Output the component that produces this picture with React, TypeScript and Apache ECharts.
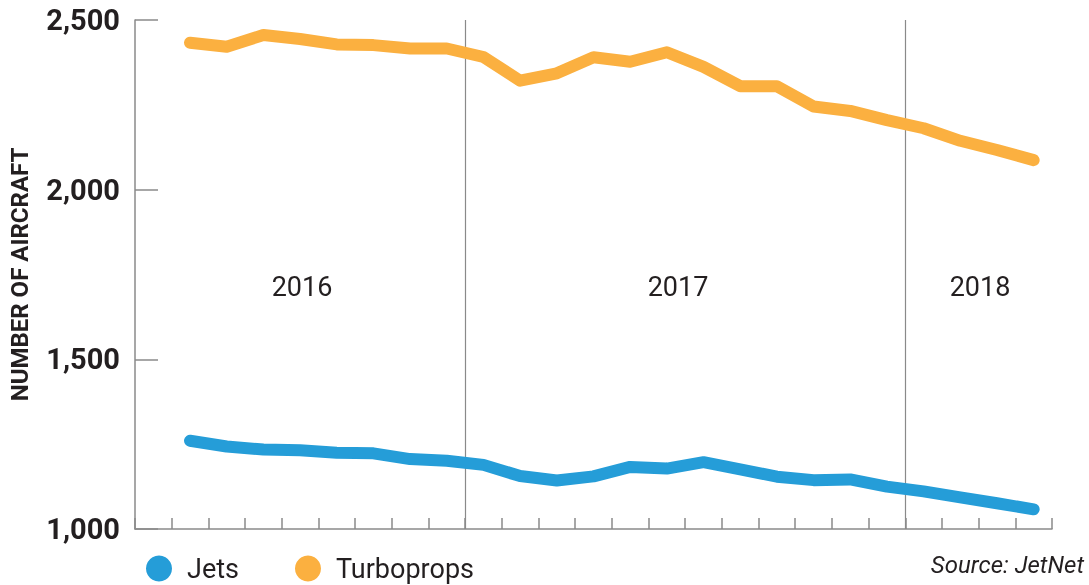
import React, { useEffect, useRef } from "react";
import * as echarts from "echarts";

const months = [
  "May 2016", "Jun 2016", "Jul 2016", "Aug 2016", "Sep 2016", "Oct 2016", "Nov 2016", "Dec 2016",
  "Jan 2017", "Feb 2017", "Mar 2017", "Apr 2017", "May 2017", "Jun 2017", "Jul 2017", "Aug 2017",
  "Sep 2017", "Oct 2017", "Nov 2017", "Dec 2017",
  "Jan 2018", "Feb 2018", "Mar 2018", "Apr 2018",
];
const jets = [1260, 1243, 1234, 1232, 1225, 1223, 1206, 1201, 1189, 1156, 1143, 1155, 1183, 1178, 1197, 1176, 1154, 1144, 1146, 1125, 1111, 1093, 1076, 1058];
const turboprops = [2433, 2421, 2456, 2444, 2428, 2426, 2416, 2416, 2391, 2321, 2343, 2390, 2377, 2405, 2362, 2305, 2305, 2245, 2232, 2205, 2181, 2144, 2117, 2087];
const yearLabels = ["2016", "2017", "2018"];
const yTicks = { min: 1000, max: 2500, interval: 500 };
const seriesNames = ["Jets", "Turboprops"];
const axisTitle = "NUMBER OF AIRCRAFT";
const sourceText = "Source: JetNet";

const FONT = 'Roboto, "Liberation Sans", sans-serif';
const TEXT = "#231F20";
const AXIS = "#8a8a8a";
const BLUE = "#259DD8";
const ORANGE = "#FBB040";

export default function App() {
  const ref = useRef<HTMLDivElement>(null);
  useEffect(() => {
    if (!ref.current) return;
    const chart = echarts.init(ref.current, undefined, { renderer: "svg" });
    const categories = ["", ...months];
    const b2017 = categories.indexOf("Jan 2017");
    const b2018 = categories.indexOf("Jan 2018");
    chart.setOption({
      animation: false,
      textStyle: { fontFamily: FONT },
      grid: { left: 135, right: 37, top: 20, bottom: 56, containLabel: false, outerBoundsMode: "none" },
      legend: {
        data: seriesNames,
        left: 141,
        top: 550,
        icon: "circle",
        itemWidth: 26,
        itemHeight: 26,
        itemGap: 56,
        textStyle: { fontFamily: FONT, fontSize: 27, color: TEXT, padding: [0, 0, 0, 10] },
      },
      xAxis: {
        type: "category",
        data: categories,
        boundaryGap: true,
        axisLine: { show: true, lineStyle: { color: AXIS, width: 1.5 } },
        axisTick: { show: true, inside: true, length: 11, interval: 0, lineStyle: { color: AXIS, width: 1.5 } },
        axisLabel: { show: false },
        splitLine: {
          show: true,
          showMinLine: true,
          showMaxLine: false,
          interval: (index: number) => index === b2017 || index === b2018,
          lineStyle: { color: AXIS, width: 1.2 },
        },
      },
      yAxis: {
        type: "value",
        min: yTicks.min,
        max: yTicks.max,
        interval: yTicks.interval,
        name: axisTitle,
        nameLocation: "middle",
        nameGap: 103,
        nameTextStyle: { fontFamily: FONT, fontSize: 24, fontWeight: "bold", color: TEXT },
        axisLine: { show: true, lineStyle: { color: AXIS, width: 1.5 } },
        axisTick: { show: true, inside: true, length: 23, lineStyle: { color: AXIS, width: 1.5 } },
        splitLine: { show: false },
        axisLabel: {
          fontFamily: FONT,
          fontSize: 29,
          fontWeight: "bold",
          color: TEXT,
          margin: 15,
          formatter: (v: number) => v.toLocaleString("en-US"),
        },
      },
      series: [
        {
          name: seriesNames[0],
          type: "line",
          data: [null, ...jets],
          symbol: "none",
          itemStyle: { color: BLUE },
          lineStyle: { color: BLUE, width: 12, cap: "round", join: "round" },
        },
        {
          name: seriesNames[1],
          type: "line",
          data: [null, ...turboprops],
          symbol: "none",
          itemStyle: { color: ORANGE },
          lineStyle: { color: ORANGE, width: 12, cap: "round", join: "round" },
        },
      ],
      graphic: [
        { type: "text", x: 302, y: 287, style: { text: yearLabels[0], font: `27px ${FONT}`, fill: TEXT, align: "center", verticalAlign: "middle" } },
        { type: "text", x: 678, y: 287, style: { text: yearLabels[1], font: `27px ${FONT}`, fill: TEXT, align: "center", verticalAlign: "middle" } },
        { type: "text", x: 980, y: 287, style: { text: yearLabels[2], font: `27px ${FONT}`, fill: TEXT, align: "center", verticalAlign: "middle" } },
        { type: "text", x: 1084, y: 565, style: { text: sourceText, font: `italic 24px ${FONT}`, fill: TEXT, align: "right", verticalAlign: "middle" } },
      ],
    });
    return () => chart.dispose();
  }, []);
  return <div ref={ref} style={{ position: "fixed", left: 0, top: 0, width: 1089, height: 585 }} />;
}
